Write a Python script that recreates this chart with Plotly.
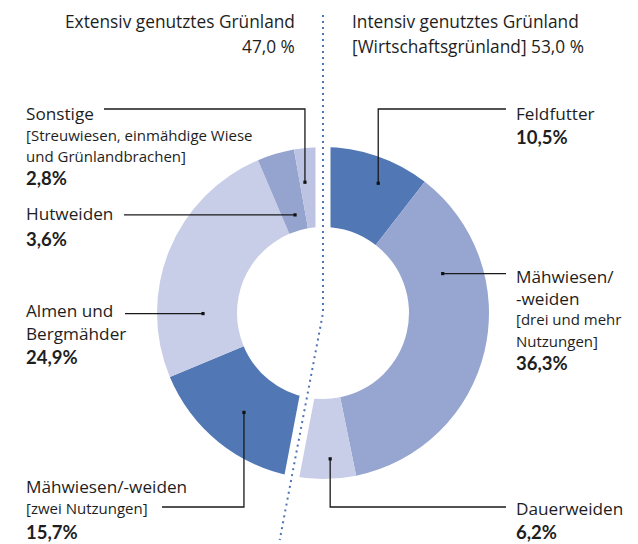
import math
import plotly.graph_objects as go

# ---------------- data ----------------
categories = ["Feldfutter",
              "Mähwiesen/-weiden (drei und mehr Nutzungen)",
              "Dauerweiden",
              "Mähwiesen/-weiden (zwei Nutzungen)",
              "Almen und Bergmähder",
              "Hutweiden",
              "Sonstige"]
shares = [10.5, 36.3, 6.2, 15.7, 24.9, 3.6, 2.8]
groups = ["intensiv", "intensiv", "intensiv", "extensiv", "extensiv", "extensiv", "extensiv"]
group_titles = {"extensiv": ["Extensiv genutztes Grünland", ""],
                "intensiv": ["Intensiv genutztes Grünland", "[Wirtschaftsgrünland] "]}

# ---------------- layout / style ----------------
W, H = 638, 544
CX, CY, R_OUT, R_IN = 323, 313, 166, 86
colors = ["#5177b5", "#97a6d1", "#c8cde8", "#5177b5", "#c8cde8", "#94a4cf", "#bcc3e3"]
FONT = "Open Sans"
PFONT = "Lato"
TXT = "#1e1e1e"
BLUE_DOT = "#4d74b4"


def fmt(v, sep=""):
    return f"{v:.1f}".replace(".", ",") + sep + "%"


def px(x):
    return x / W


def py(y):
    return 1 - y / H


total = sum(shares)
cum = [0]
for s in shares:
    cum.append(cum[-1] + s)
angles = [360 * c / total for c in cum]


def polar(a, r):
    t = math.radians(a)
    return CX + r * math.sin(t), CY - r * math.cos(t)


fig = go.Figure(go.Pie(
    labels=categories, values=shares, sort=False, direction="clockwise", rotation=0,
    hole=R_IN / R_OUT, textinfo="none", hoverinfo="label+percent",
    marker=dict(colors=colors, line=dict(width=0)),
    domain=dict(x=[px(CX - R_OUT), px(CX + R_OUT)], y=[py(CY + R_OUT), py(CY - R_OUT)]),
    showlegend=False))

shapes = []
annotations = []

# separation between intensive and extensive parts
n_int = sum(1 for g in groups if g == "intensiv")
a_split = angles[n_int]
gx, gy = polar(a_split, R_OUT + 10)
shapes.append(dict(type="path", xref="paper", yref="paper",
                   path=f"M {px(CX)},{py(CY - R_OUT - 8)} L {px(CX)},{py(CY)} L {px(gx)},{py(gy)}",
                   line=dict(color="white", width=15), layer="above"))
# dotted divider
dy_end = 540 - CY
r_end = dy_end / (-math.cos(math.radians(a_split)))
ex, ey = polar(a_split, r_end)
shapes.append(dict(type="path", xref="paper", yref="paper",
                   path=f"M {px(CX)},{py(15)} L {px(CX)},{py(CY)} L {px(ex)},{py(ey)}",
                   line=dict(color=BLUE_DOT, width=2, dash="2px,4px"), layer="above"))

# group titles
ext_sum = sum(s for s, g in zip(shares, groups) if g == "extensiv")
int_sum = sum(s for s, g in zip(shares, groups) if g == "intensiv")
title_specs = [
    (group_titles["extensiv"][0], 297, 22, "right"),
    (group_titles["extensiv"][1] + fmt(ext_sum, " "), 297, 46, "right"),
    (group_titles["intensiv"][0], 350, 22, "left"),
    (group_titles["intensiv"][1] + fmt(int_sum, " "), 350, 46, "left"),
]
for text, x, y, anchor in title_specs:
    annotations.append(dict(text=text, x=px(x), y=py(y), xref="paper", yref="paper",
                            xanchor=anchor, yanchor="middle", showarrow=False,
                            font=dict(family=FONT, size=17.3, color=TXT)))

# slice labels: lines (text, kind, y), text x, leader spec
SIZES = {"main": 17.2, "sub": 15.0, "pct": 18.5}
labels = [
    dict(i=0, x=514, lines=[("Feldfutter", "main", 113)], pct_y=137,
         anchor=(0.61, 141), leader=("v", 109, 506)),
    dict(i=1, x=514, lines=[("Mähwiesen/", "main", 276), ("-weiden", "main", 298),
                            ("[drei und mehr", "sub", 319), ("Nutzungen]", "sub", 341)], pct_y=363,
         anchor=(0.26, 126), leader=("h", None, 506)),
    dict(i=2, x=514, lines=[("Dauerweiden", "main", 508)], pct_y=532,
         anchor=(0.39, 146), leader=("v", 507, 506)),
    dict(i=3, x=24, lines=[("Mähwiesen/-weiden", "main", 486), ("[zwei Nutzungen]", "sub", 508)], pct_y=532,
         anchor=(0.49, 127), leader=("v", 507, 162)),
    dict(i=4, x=24, lines=[("Almen und", "main", 310), ("Bergmähder", "main", 333)], pct_y=357,
         anchor=(0.25, 120), leader=("h", None, 125)),
    dict(i=5, x=24, lines=[("Hutweiden", "main", 213)], pct_y=239,
         anchor=(0.55, 102), leader=("h", None, 124)),
    dict(i=6, x=24, lines=[("Sonstige", "main", 113), ("[Streuwiesen, einmähdige Wiese", "sub", 135),
                           ("und Grünlandbrachen]", "sub", 156)], pct_y=178,
         anchor=(0.22, 132), leader=("v", 109, 104)),
]

for lab in labels:
    i = lab["i"]
    for text, kind, y in lab["lines"]:
        annotations.append(dict(text=text, x=px(lab["x"]), y=py(y), xref="paper", yref="paper",
                                xanchor="left", yanchor="middle", showarrow=False,
                                font=dict(family=FONT, size=SIZES[kind], color=TXT)))
    annotations.append(dict(text="<b>" + fmt(shares[i]) + "</b>", x=px(lab["x"]), y=py(lab["pct_y"]),
                            xref="paper", yref="paper", xanchor="left", yanchor="middle",
                            showarrow=False, font=dict(family=PFONT, size=SIZES["pct"], color=TXT)))
    t, r = lab["anchor"]
    a = angles[i] + t * (angles[i + 1] - angles[i])
    ax, ay = polar(a, r)
    mode, ylev, xend = lab["leader"]
    if mode == "v":
        path = f"M {px(ax)},{py(ay)} L {px(ax)},{py(ylev)} L {px(xend)},{py(ylev)}"
    else:
        path = f"M {px(ax)},{py(ay)} L {px(xend)},{py(ay)}"
    shapes.append(dict(type="path", xref="paper", yref="paper", path=path,
                       line=dict(color="#1a1a1a", width=1.3), layer="above"))
    shapes.append(dict(type="rect", xref="paper", yref="paper",
                       x0=px(ax - 1.6), x1=px(ax + 1.6), y0=py(ay + 1.6), y1=py(ay - 1.6),
                       fillcolor="#111111", line=dict(width=0), layer="above"))

fig.update_layout(width=W, height=H, margin=dict(l=0, r=0, t=0, b=0),
                  paper_bgcolor="white", plot_bgcolor="white",
                  shapes=shapes, annotations=annotations, font=dict(family=FONT))

fig.write_html("out.html", config={"displayModeBar": False},
               post_script="document.body.style.margin='0';")
